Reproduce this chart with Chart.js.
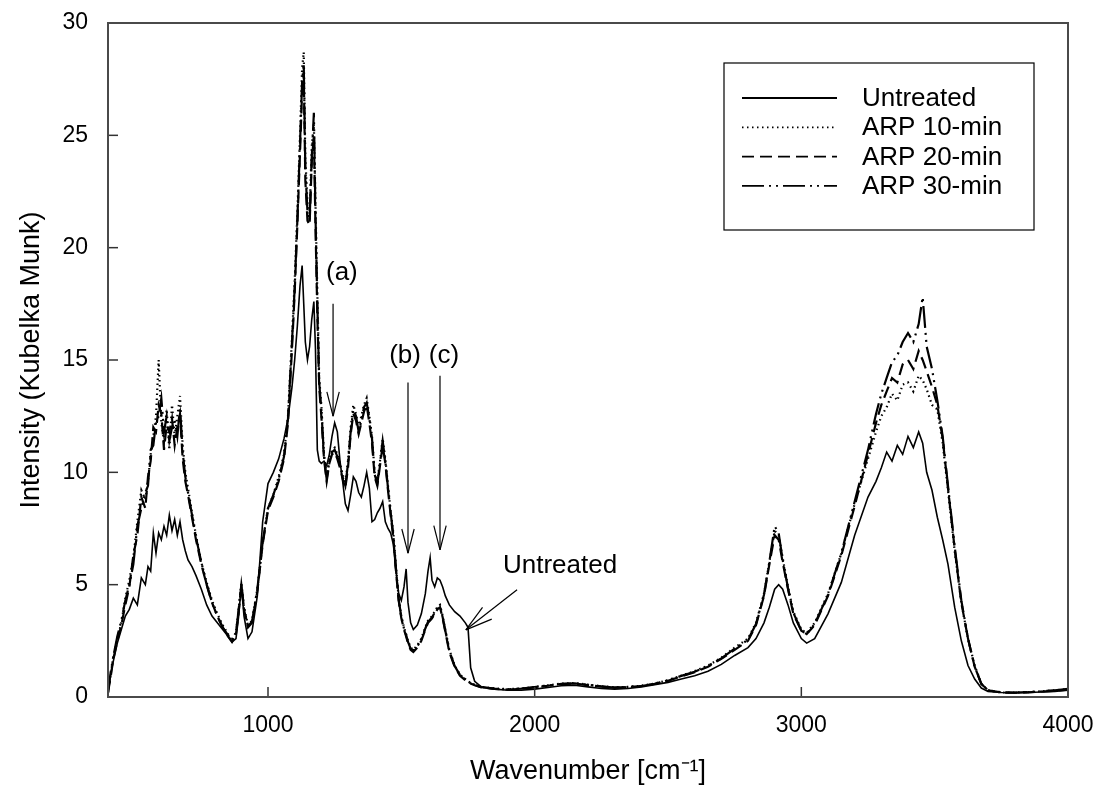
<!DOCTYPE html>
<html>
<head>
<meta charset="utf-8">
<script src="https://cdn.jsdelivr.net/npm/chart.js@4.4.1/dist/chart.umd.min.js"></script>
<style>
  html, body { margin: 0; padding: 0; background: #fff; }
  #wrap { width: 1102px; height: 804px; }
</style>
</head>
<body>
<div id="wrap"><canvas id="specChart" width="1102" height="804"></canvas></div>
<script>
// ==========================================
// 1. data
// ==========================================
// wavenumber grid, cm-1 (shared by all 4 spectra)
const wavenumbers = [
  400, 410, 420, 435, 450, 465, 480, 495, 510, 525,
  540, 550, 560, 570, 580, 590, 600, 610, 620, 630,
  640, 650, 660, 670, 680, 690, 700, 715, 730, 750,
  770, 790, 810, 830, 850, 865, 880, 890, 900, 910,
  925, 940, 960, 980, 1000, 1020, 1040, 1060, 1075, 1090,
  1100, 1110, 1120, 1128, 1134, 1140, 1148, 1156, 1164, 1172,
  1178, 1185, 1192, 1200, 1210, 1220, 1230, 1240, 1250, 1260,
  1270, 1280, 1290, 1300, 1310, 1320, 1330, 1340, 1350, 1360,
  1370, 1380, 1390, 1400, 1410, 1420, 1430, 1440, 1450, 1460,
  1470, 1480, 1490, 1500, 1510, 1518, 1525, 1535, 1545, 1560,
  1575, 1590, 1600, 1608, 1615, 1625, 1635, 1645, 1655, 1665,
  1680, 1700, 1720, 1740, 1750, 1760, 1775, 1800, 1850, 1900,
  1950, 2000, 2050, 2100, 2150, 2200, 2250, 2300, 2350, 2400,
  2450, 2500, 2550, 2600, 2650, 2700, 2750, 2800, 2830, 2860,
  2880, 2900, 2915, 2930, 2950, 2970, 3000, 3020, 3050, 3100,
  3150, 3200, 3250, 3280, 3300, 3320, 3340, 3360, 3380, 3400,
  3420, 3440, 3455, 3470, 3490, 3510, 3530, 3550, 3575, 3600,
  3625, 3650, 3675, 3700, 3750, 3800, 3850, 3900, 3950, 4000
];

const untreated = [
  0.2, 1.0, 1.6, 2.4, 3.0, 3.6, 3.9, 4.4, 4.1, 5.3,
  5.0, 5.8, 5.6, 7.3, 6.4, 7.3, 7.0, 7.6, 7.2, 8.1,
  7.4, 7.9, 7.2, 7.8, 7.0, 6.5, 6.1, 5.8, 5.4, 4.8,
  4.1, 3.6, 3.3, 3.0, 2.7, 2.45, 2.6, 3.6, 5.0, 3.6,
  2.6, 2.9, 4.5, 7.8, 9.5, 10.0, 10.6, 11.5, 12.4, 13.8,
  15.0, 16.5, 18.3, 19.2, 17.5, 15.8, 15.0, 15.6, 16.8, 17.6,
  15.5, 11.0, 10.5, 10.4, 10.5, 10.3, 10.8, 11.6, 12.2, 11.8,
  10.5, 9.6, 8.6, 8.3, 9.0, 9.8, 9.6, 9.1, 8.9, 9.4,
  10.0, 9.3, 7.8, 7.9, 8.2, 8.4, 8.7, 7.8, 7.5, 7.3,
  6.8, 5.6, 4.6, 4.3, 4.9, 5.7, 4.2, 3.3, 3.0, 3.2,
  3.7, 4.6, 5.6, 6.2, 5.2, 4.9, 5.3, 5.2, 4.9, 4.5,
  4.1, 3.8, 3.6, 3.3, 3.1, 1.3, 0.7, 0.45, 0.35, 0.3,
  0.3, 0.35, 0.42, 0.5, 0.52, 0.45, 0.38, 0.35, 0.38, 0.45,
  0.55, 0.65, 0.8, 0.95, 1.15, 1.45, 1.85, 2.2, 2.6, 3.3,
  4.0, 4.8, 5.0, 4.8, 4.1, 3.3, 2.6, 2.4, 2.6, 3.7,
  5.1, 7.2, 8.9, 9.6, 10.2, 10.9, 10.5, 11.2, 10.8, 11.6,
  11.1, 11.8, 11.3, 10.0, 9.2, 8.0, 7.0, 5.9, 4.0, 2.5,
  1.4, 0.8, 0.4, 0.25, 0.2, 0.18, 0.2, 0.22, 0.25, 0.3
];

const arp10 = [
  0.2, 1.0, 1.8, 2.6, 3.3, 4.4, 5.2, 6.2, 7.8, 9.2,
  8.8, 9.6, 10.8, 11.6, 12.5, 15.0, 12.2, 11.4, 12.8, 11.0,
  13.0, 11.6, 12.5, 13.4, 11.2, 10.0, 9.3, 8.2, 7.2, 6.0,
  5.1, 4.3, 3.7, 3.2, 2.8, 2.5, 2.9, 3.9, 5.1, 4.0,
  3.2, 3.4, 4.8, 6.9, 8.4, 9.0, 9.8, 10.8, 12.5, 16.0,
  18.5, 21.5, 25.0, 28.0, 28.7, 24.0, 22.0, 21.5, 24.5, 25.5,
  22.0, 18.0, 14.2, 13.0, 10.8, 9.8, 10.6, 11.0, 11.1, 10.8,
  10.4, 9.9, 9.5, 10.5, 12.0, 13.0, 12.6, 12.0, 12.5, 13.0,
  13.3, 12.5, 11.6, 10.0, 9.6, 10.5, 11.5, 10.6, 9.4, 8.3,
  7.3, 5.8, 4.4, 3.6, 3.1, 2.8, 2.5, 2.2, 2.1, 2.3,
  2.6, 3.1, 3.4, 3.5, 3.6, 3.8, 4.0, 4.1, 3.6, 3.0,
  2.1, 1.4, 1.0, 0.8, 0.7, 0.62, 0.55, 0.45, 0.38, 0.35,
  0.38, 0.45, 0.52, 0.6, 0.62, 0.55, 0.48, 0.43, 0.45, 0.5,
  0.6, 0.75, 0.95, 1.15, 1.4, 1.75, 2.2, 2.6, 3.3, 4.6,
  6.0, 7.4, 7.2, 6.2, 4.9, 3.8, 3.0, 2.85, 3.3, 4.6,
  6.4, 8.6, 10.6, 11.8, 12.5, 12.9, 13.5, 13.2, 13.9, 14.0,
  13.6, 14.3, 14.1, 13.7, 13.0, 12.8, 11.3, 9.2, 6.5, 4.2,
  2.6, 1.4, 0.6, 0.3, 0.2, 0.2, 0.22, 0.25, 0.3, 0.35
];

const arp20 = [
  0.2, 0.9, 1.7, 2.5, 3.2, 4.1, 4.9, 6.3, 7.2, 8.9,
  8.4, 9.8, 10.5, 12.0, 11.8, 13.0, 12.6, 11.0, 12.1, 11.8,
  12.4, 11.2, 12.0, 12.6, 10.6, 9.6, 9.0, 8.0, 7.0, 5.9,
  5.0, 4.2, 3.6, 3.1, 2.7, 2.45, 2.8, 3.8, 5.0, 3.9,
  3.1, 3.3, 4.7, 6.8, 8.3, 8.9, 9.6, 10.6, 12.2, 15.5,
  18.0, 21.0, 24.2, 27.0, 27.8, 23.0, 21.2, 21.0, 23.8, 25.0,
  21.0, 17.0, 13.8, 12.5, 10.6, 9.6, 10.4, 10.8, 10.9, 10.6,
  10.2, 9.7, 9.3, 10.2, 11.7, 12.6, 12.3, 11.7, 12.2, 12.7,
  13.0, 12.2, 11.3, 9.8, 9.4, 10.3, 11.2, 10.4, 9.2, 8.1,
  7.1, 5.6, 4.3, 3.5, 3.0, 2.7, 2.4, 2.1, 2.0, 2.2,
  2.5, 3.0, 3.3, 3.4, 3.5, 3.7, 3.9, 4.0, 3.5, 2.9,
  2.0, 1.35, 0.95, 0.75, 0.68, 0.6, 0.52, 0.43, 0.36, 0.33,
  0.36, 0.43, 0.5, 0.57, 0.6, 0.53, 0.46, 0.42, 0.44, 0.48,
  0.58, 0.72, 0.92, 1.1, 1.35, 1.7, 2.1, 2.5, 3.2, 4.5,
  5.9, 7.2, 7.0, 6.0, 4.8, 3.7, 2.95, 2.8, 3.2, 4.5,
  6.3, 8.5, 10.8, 12.2, 13.0, 13.6, 14.2, 14.0, 14.8, 15.0,
  14.6, 15.4, 15.0, 14.5, 13.8, 13.0, 11.5, 9.3, 6.6, 4.2,
  2.6, 1.35, 0.58, 0.3, 0.2, 0.19, 0.21, 0.24, 0.28, 0.33
];

const arp30 = [
  0.2, 1.1, 1.8, 2.7, 3.4, 4.3, 5.0, 5.9, 7.6, 8.4,
  9.1, 9.4, 11.0, 11.2, 12.2, 12.5, 13.3, 11.8, 12.5, 11.4,
  12.0, 12.3, 11.6, 12.9, 10.9, 9.8, 9.1, 8.1, 7.1, 6.0,
  5.0, 4.2, 3.6, 3.1, 2.75, 2.5, 2.85, 3.9, 5.0, 3.95,
  3.15, 3.35, 4.8, 6.9, 8.4, 9.0, 9.7, 10.7, 12.4, 15.8,
  18.2, 21.2, 24.6, 27.4, 28.2, 23.5, 21.6, 21.2, 24.0, 26.0,
  21.5, 17.5, 14.0, 12.8, 10.7, 9.7, 10.5, 10.9, 11.0, 10.7,
  10.3, 9.8, 9.4, 10.4, 11.8, 12.8, 12.5, 11.8, 12.3, 12.9,
  13.1, 12.4, 11.5, 9.9, 9.5, 10.4, 11.4, 10.5, 9.3, 8.2,
  7.2, 5.7, 4.35, 3.55, 3.05, 2.75, 2.45, 2.15, 2.05, 2.25,
  2.55, 3.05, 3.35, 3.45, 3.55, 3.75, 3.95, 4.05, 3.55, 2.95,
  2.05, 1.38, 0.98, 0.78, 0.69, 0.61, 0.54, 0.44, 0.37, 0.34,
  0.37, 0.44, 0.51, 0.58, 0.61, 0.54, 0.47, 0.42, 0.44, 0.49,
  0.59, 0.74, 0.94, 1.12, 1.38, 1.72, 2.15, 2.55, 3.25, 4.55,
  6.0, 7.6, 7.3, 6.1, 4.85, 3.75, 2.95, 2.8, 3.25, 4.55,
  6.4, 8.7, 11.0, 12.6, 13.5, 14.2, 14.9, 15.2, 15.8, 16.2,
  15.8, 16.6, 17.8, 15.6, 14.6, 13.2, 11.6, 9.4, 6.7, 4.3,
  2.6, 1.35, 0.58, 0.3, 0.21, 0.2, 0.22, 0.25, 0.3, 0.36
];

const seriesNames = ['Untreated', 'ARP 10-min', 'ARP 20-min', 'ARP 30-min'];
const xTickValues = [1000, 2000, 3000, 4000];
const yTickValues = [0, 5, 10, 15, 20, 25, 30];

// peak markers: label, label position, arrow x, arrow from/to (data units)
const peakNotes = [
  { text: '(a)', lx: 1277, ly: 18.9, ax: 1244, from: 17.5, to: 12.5 },
  { text: '(b)', lx: 1514, ly: 15.2, ax: 1525, from: 14.0, to: 6.4 },
  { text: '(c)', lx: 1660, ly: 15.2, ax: 1645, from: 14.3, to: 6.55 }
];
const untreatedNote = { text: 'Untreated', lx: 1881, ly: 5.84, fromX: 1934, fromY: 4.77, toX: 1742, toY: 2.99 };

const FONT = '"Liberation Sans", Arial, sans-serif';

// ==========================================
// 2. helpers
// ==========================================
const toPoints = arr => arr.map((v, i) => ({ x: wavenumbers[i], y: v }));

function seg(ctx, x1, y1, x2, y2) {
  ctx.beginPath();
  ctx.moveTo(x1, y1);
  ctx.lineTo(x2, y2);
  ctx.stroke();
}

function arrowHead(ctx, tipX, tipY, fromX, fromY, len, spread) {
  const ang = Math.atan2(fromY - tipY, fromX - tipX);
  seg(ctx, tipX, tipY, tipX + len * Math.cos(ang - spread), tipY + len * Math.sin(ang - spread));
  seg(ctx, tipX, tipY, tipX + len * Math.cos(ang + spread), tipY + len * Math.sin(ang + spread));
}

// frame, inward ticks, legend box and the arrows
const decorPlugin = {
  id: 'decor',
  afterDatasetsDraw(chart) {
    const { ctx, chartArea: a, scales: { x, y } } = chart;
    ctx.save();

    // inward tick marks
    ctx.strokeStyle = '#333';
    ctx.lineWidth = 1.5;
    xTickValues.forEach(v => {
      const px = x.getPixelForValue(v);
      seg(ctx, px, a.bottom, px, a.bottom - 10);
    });
    yTickValues.forEach(v => {
      const py = y.getPixelForValue(v);
      seg(ctx, a.left, py, a.left + 10, py);
    });

    // plot frame
    ctx.strokeStyle = '#4a4a4a';
    ctx.lineWidth = 2;
    ctx.strokeRect(a.left, a.top, a.right - a.left, a.bottom - a.top);

    // peak arrows
    ctx.strokeStyle = '#000';
    ctx.fillStyle = '#000';
    ctx.lineWidth = 1.2;
    ctx.font = '26px ' + FONT;
    ctx.textAlign = 'center';
    ctx.textBaseline = 'middle';
    peakNotes.forEach(n => {
      ctx.fillText(n.text, x.getPixelForValue(n.lx), y.getPixelForValue(n.ly));
      const px = x.getPixelForValue(n.ax);
      const y1 = y.getPixelForValue(n.from);
      const y2 = y.getPixelForValue(n.to);
      seg(ctx, px, y1, px, y2);
      arrowHead(ctx, px, y2, px, y1, 25, 0.25);
    });

    // "Untreated" call-out
    const u = untreatedNote;
    ctx.textAlign = 'left';
    ctx.fillText(u.text, x.getPixelForValue(u.lx), y.getPixelForValue(u.ly));
    const fx = x.getPixelForValue(u.fromX), fy = y.getPixelForValue(u.fromY);
    const tx = x.getPixelForValue(u.toX), ty = y.getPixelForValue(u.toY);
    seg(ctx, fx, fy, tx, ty);
    arrowHead(ctx, tx, ty, fx, fy, 28, 0.27);

    // legend
    const bx = a.right - 344, by = a.top + 40, bw = 310, bh = 167;
    ctx.lineWidth = 1.2;
    ctx.strokeStyle = '#000';
    ctx.strokeRect(bx, by, bw, bh);
    chart.data.datasets.forEach((ds, i) => {
      const ry = by + 35 + i * 29.3;
      ctx.save();
      ctx.setLineDash(ds.borderDash || []);
      ctx.lineWidth = 1.8;
      seg(ctx, bx + 18, ry, bx + 113, ry);
      ctx.restore();
      ctx.fillText(ds.label, bx + 138, ry + 1);
    });

    ctx.restore();
  }
};

// ==========================================
// 3. chart
// ==========================================
const lineStyles = [
  { dash: [], width: 1.6 },
  { dash: [1.5, 3.5], width: 2.2 },
  { dash: [12, 6], width: 2.2 },
  { dash: [22, 5, 2, 5, 2, 5], width: 2.2 }
];
const seriesValues = [untreated, arp10, arp20, arp30];

new Chart(document.getElementById('specChart').getContext('2d'), {
  type: 'line',
  data: {
    datasets: seriesValues.map((vals, i) => ({
      label: seriesNames[i],
      data: toPoints(vals),
      borderColor: '#000',
      borderWidth: lineStyles[i].width,
      borderDash: lineStyles[i].dash,
      pointRadius: 0,
      tension: 0,
      fill: false
    }))
  },
  options: {
    responsive: false,
    animation: false,
    devicePixelRatio: 1,
    layout: { padding: { top: 23, right: 34, left: 0, bottom: 0 } },
    plugins: { legend: { display: false }, tooltip: { enabled: false } },
    scales: {
      x: {
        type: 'linear',
        min: 400,
        max: 4000,
        afterBuildTicks: s => { s.ticks = xTickValues.map(v => ({ value: v })); },
        afterFit: s => { s.height = 107; s.paddingLeft = 0; s.paddingRight = 0; },
        grid: { display: false, drawTicks: false },
        border: { display: false },
        ticks: { color: '#000', padding: 15, maxRotation: 0, callback: v => String(v), font: { family: FONT, size: 23 } },
        title: {
          display: true,
          text: 'Wavenumber [cm\u207B\u00B9]',
          color: '#000',
          padding: { top: 0, bottom: 16 },
          font: { family: FONT, size: 27 }
        }
      },
      y: {
        min: 0,
        max: 30,
        afterBuildTicks: s => { s.ticks = yTickValues.map(v => ({ value: v })); },
        afterFit: s => { s.width = 108; s.paddingTop = 0; s.paddingBottom = 0; },
        grid: { display: false, drawTicks: false },
        border: { display: false },
        ticks: { color: '#000', padding: 20, callback: v => String(v), font: { family: FONT, size: 23 } },
        title: {
          display: true,
          text: 'Intensity (Kubelka Munk)',
          color: '#000',
          padding: { top: 15, bottom: 0 },
          font: { family: FONT, size: 27 }
        }
      }
    }
  },
  plugins: [decorPlugin]
});
</script>
</body>
</html>
